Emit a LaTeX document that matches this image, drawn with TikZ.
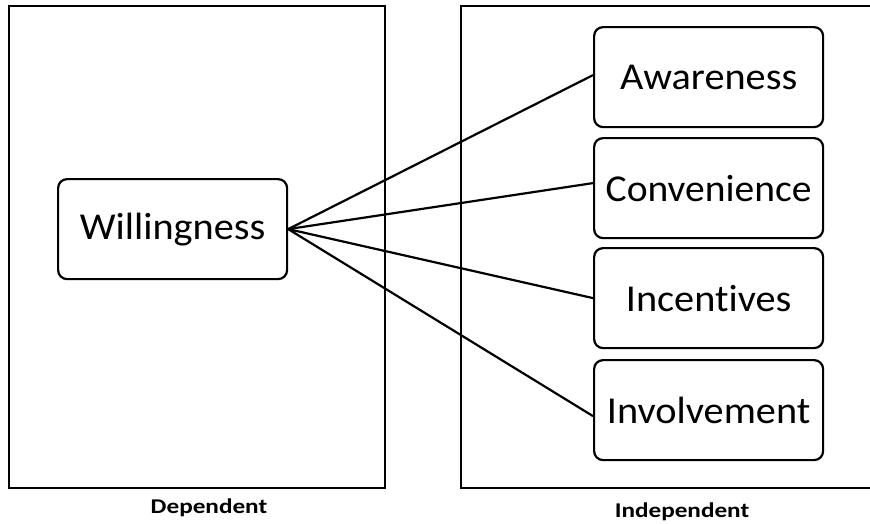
\documentclass[tikz,border=0pt]{standalone}
\usepackage{fontspec}
\usepackage{graphicx}
\setmainfont[Ligatures=NoCommon]{Carlito}
\newcommand{\wide}[2]{\scalebox{#1}[1]{#2}}
\begin{document}
\begin{tikzpicture}[x=1pt,y=-1pt,
  frame/.style={draw=black,line width=2.2pt},
  varbox/.style={draw=black,line width=2.2pt,rounded corners=9pt,minimum width=229pt,minimum height=100pt,inner sep=0pt,font=\fontsize{38}{40}\selectfont,anchor=north west},
  link/.style={draw=black,line width=2.2pt},
  caplabel/.style={font=\fontsize{21}{24}\selectfont\bfseries}]
\useasboundingbox (0,0) rectangle (870,523);
\draw[frame] (9,6) rectangle (385,488);
\draw[frame] (872,6) -- (461,6) -- (461,488) -- (872,488);
\node[varbox] (w) at (57,178) {\wide{1.06}{Willingness}};
\node[varbox] (a) at (593,26) {\wide{1.06}{Awareness}};
\node[varbox] (c) at (593,137) {\wide{1.04}{Convenience}};
\node[varbox] (i) at (593,247) {\wide{1.06}{Incentives}};
\node[varbox] (v) at (593,359) {\wide{1.06}{Involvement}};
\draw[link] (w.east) -- ([yshift=2pt]a.west);
\draw[link] (w.east) -- ([yshift=5pt]c.west);
\draw[link] (w.east) -- (i.west);
\draw[link] (w.east) -- ([yshift=-6pt]v.west);
\node[caplabel] (dep) at (209,508) {\wide{1.2}{Dependent}};
\node[caplabel] (ind) at (682,512) {\wide{1.2}{Independent}};
\end{tikzpicture}
\end{document}
